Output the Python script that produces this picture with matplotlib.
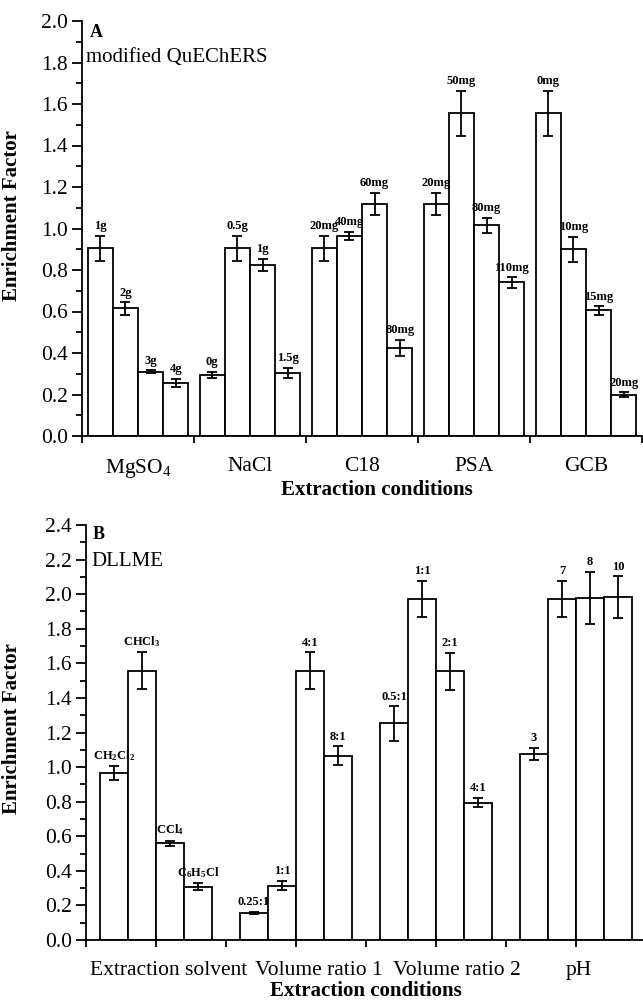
import numpy as np
import matplotlib.pyplot as plt

plt.rcParams['font.family'] = ['Liberation Serif', 'DejaVu Serif']
plt.rcParams['mathtext.fontset'] = 'custom'
plt.rcParams['mathtext.rm'] = 'Liberation Serif'
plt.rcParams['mathtext.bf'] = 'Liberation Serif:bold'
plt.rcParams['mathtext.it'] = 'Liberation Serif:italic'

# panel A - modified QuEChERS
groups_a = [r'MgSO$_4$', 'NaCl', 'C18', 'PSA', 'GCB']
labels_a = [['1g', '2g', '3g', '4g'],
            ['0g', '0.5g', '1g', '1.5g'],
            ['20mg', '40mg', '60mg', '80mg'],
            ['20mg', '50mg', '80mg', '110mg'],
            ['0mg', '10mg', '15mg', '20mg']]
ef_a = [[0.905, 0.615, 0.31, 0.255],
        [0.295, 0.905, 0.825, 0.305],
        [0.905, 0.965, 1.12, 0.425],
        [1.12, 1.555, 1.015, 0.74],
        [1.555, 0.90, 0.605, 0.20]]
err_a = [[0.06, 0.03, 0.007, 0.02],
         [0.015, 0.06, 0.03, 0.025],
         [0.06, 0.02, 0.053, 0.04],
         [0.053, 0.11, 0.037, 0.025],
         [0.11, 0.06, 0.02, 0.012]]

# panel B - DLLME
groups_b = ['Extraction solvent', 'Volume ratio 1', 'Volume ratio 2', 'pH']
labels_b = [[r'$\mathbf{CH_2Cl_2}$', r'$\mathbf{CHCl_3}$', r'$\mathbf{CCl_4}$', r'$\mathbf{C_6H_5Cl}$'],
            ['0.25:1', '1:1', '4:1', '8:1'],
            ['0.5:1', '1:1', '2:1', '4:1'],
            ['3', '7', '8', '10']]
ef_b = [[0.965, 1.557, 0.56, 0.309],
        [0.158, 0.315, 1.557, 1.066],
        [1.253, 1.973, 1.555, 0.795],
        [1.077, 1.973, 1.979, 1.983]]
err_b = [[0.04, 0.107, 0.015, 0.02],
         [0.005, 0.027, 0.107, 0.055],
         [0.10, 0.105, 0.107, 0.028],
         [0.034, 0.105, 0.15, 0.12]]


def draw_panel(ax, values, errors, names, groups, width, ymax, label_shift):
    x = np.arange(1, len(groups) + 1)
    n = len(values[0])
    offsets = (np.arange(n) - (n - 1) / 2.) * width
    for j in range(n):
        v = np.array([g[j] for g in values])
        e = np.array([g[j] for g in errors])
        ax.bar(x + offsets[j], v, width, yerr=e, color='white', edgecolor='black',
               linewidth=1.3, zorder=2,
               error_kw=dict(ecolor='black', elinewidth=1.3, capsize=3.5, capthick=1.3))
        for xi, vi, ei, g in zip(x + offsets[j], v, e, names):
            ax.annotate(g[j], (xi, vi + ei), xytext=(0, 2.5), textcoords='offset points',
                        ha='center', va='bottom', fontsize=9, fontweight='bold')

    ax.set_xlim(0.5, len(groups) + 0.5)
    ax.set_ylim(0, ymax)
    ax.set_xticks(np.arange(0.5, len(groups) + 0.51, 0.5), minor=True)
    ax.set_xticks(x + np.array(label_shift), groups)
    ax.tick_params(axis='x', which='major', length=0, pad=15, labelsize=15.5)
    ax.tick_params(axis='x', which='minor', length=5, width=1.3, direction='out')
    ax.set_yticks(np.arange(0, ymax + 0.01, 0.2))
    ax.set_yticks(np.arange(0, ymax + 0.01, 0.1), minor=True)
    ax.yaxis.set_major_formatter(plt.FormatStrFormatter('%.1f'))
    ax.tick_params(axis='y', which='major', length=7, width=1.3, pad=3, labelsize=15.5)
    ax.tick_params(axis='y', which='minor', length=4, width=1.3)
    for s in ['top', 'right']:
        ax.spines[s].set_visible(False)
    for s in ['left', 'bottom']:
        ax.spines[s].set_linewidth(1.3)
    ax.set_ylabel('Enrichment Factor', fontsize=15, fontweight='bold')
    ax.set_xlabel('Extraction conditions', fontsize=15, fontweight='bold')


fig = plt.figure(figsize=(6.43, 10.02), dpi=100)
W, H = 643., 1002.

axA = fig.add_axes([82 / W, 1 - 436 / H, (642 - 82) / W, (436 - 21) / H])
draw_panel(axA, ef_a, err_a, labels_a, groups_a, 0.225, 2.0, [0, 0, 0, 0, 0])
axA.text(0.014, 0.973, 'A', transform=axA.transAxes, fontsize=13, fontweight='bold', va='center')
axA.text(0.008, 0.913, 'modified QuEChERS', transform=axA.transAxes, fontsize=15, va='center')
axA.yaxis.set_label_coords(-0.107, 0.53)
axA.xaxis.set_label_coords(0.527, -0.106)

axB = fig.add_axes([86 / W, 1 - 940 / H, (646 - 86) / W, (940 - 525) / H])
draw_panel(axB, ef_b, err_b, labels_b, groups_b, 0.2, 2.4, [0.09, 0.16, 0.15, 0.02])
axB.text(0.0125, 0.976, 'B', transform=axB.transAxes, fontsize=13, fontweight='bold', va='center')
axB.text(0.01, 0.911, 'DLLME', transform=axB.transAxes, fontsize=15, va='center')
axB.yaxis.set_label_coords(-0.114, 0.51)
axB.xaxis.set_label_coords(0.5, -0.099)

fig.savefig('out.png', dpi=100)
